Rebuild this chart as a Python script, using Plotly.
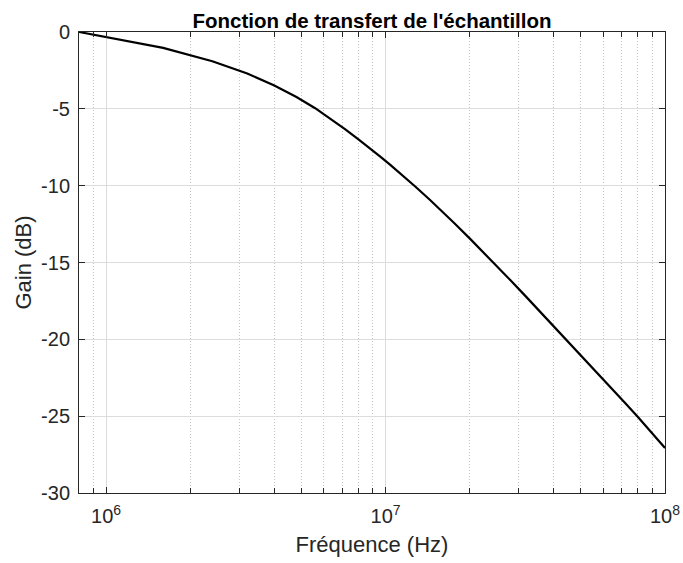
import numpy as np
import plotly.graph_objects as go

# Measured transfer function of the sample
freq_mhz = [0.8, 1.6, 2.4, 3.2, 4.0, 4.8, 5.6, 6.4, 7.2, 8.0, 8.8, 9.6, 10.4,
            11.2, 12.0, 12.8, 14.4, 16.0, 17.6, 20.0, 22.4, 24.0, 28.0, 32.0,
            36.0, 40.0, 48.0, 56.0, 64.0, 72.0, 80.0, 88.0, 100.0]
gain_db = [0.00, -1.03, -1.90, -2.70, -3.48, -4.23, -4.96, -5.68, -6.35, -6.99,
           -7.57, -8.13, -8.65, -9.14, -9.62, -10.07, -10.92, -11.70, -12.43,
           -13.43, -14.33, -14.89, -16.16, -17.27, -18.26, -19.15, -20.69,
           -22.00, -23.14, -24.15, -25.06, -25.89, -27.07]

freq_hz = [f * 1e6 for f in freq_mhz]

x_major = [1e6, 1e7, 1e8]
x_major_text = ["10<sup>6</sup>", "10<sup>7</sup>", "10<sup>8</sup>"]
x_minor = [m * 10 ** e for e in (5, 6, 7) for m in range(2, 10)]
x_minor = [v for v in x_minor if 8e5 <= v <= 1e8]

y_ticks = [0, -5, -10, -15, -20, -25, -30]
y_text = ["0", "-5", "-10", "-15", "-20", "-25", "-30"]

ink = "#262626"
font = "Liberation Sans, Arial, Helvetica, sans-serif"

fig = go.Figure()
fig.add_trace(go.Scatter(
    x=freq_hz, y=gain_db, mode="lines",
    line=dict(color="black", width=2.2),
    showlegend=False, hoverinfo="skip",
))

fig.update_layout(
    width=683, height=563,
    margin=dict(l=79, r=18, t=32, b=70),
    paper_bgcolor="white", plot_bgcolor="white",
    font=dict(family=font, color=ink, size=20),
    title=dict(
        text="<b>Fonction de transfert de l'échantillon</b>",
        x=(79 + 665) / 2 / 683, xanchor="center",
        y=1 - 28 / 563, yanchor="bottom",
        font=dict(size=20.5, color="black", family=font),
    ),
)

fig.update_xaxes(
    type="log", range=[np.log10(8e5), 8], automargin=False,
    tickmode="array", tickvals=x_major, ticktext=x_major_text,
    ticks="inside", ticklen=6, tickcolor=ink, tickwidth=1,
    showline=True, linecolor=ink, linewidth=1, mirror="allticks",
    showgrid=True, gridcolor="#dcdcdc", gridwidth=1,
    minor=dict(tickmode="array", tickvals=x_minor, ticks="inside", ticklen=5,
               tickcolor=ink, showgrid=True, gridcolor="#c4c4c4",
               griddash="1px,2px", gridwidth=1),
    tickfont=dict(size=20, color=ink), ticklabelstandoff=5,
    title=dict(text="Fréquence (Hz)", font=dict(size=22, color=ink), standoff=10),
    zeroline=False,
)

fig.update_yaxes(
    range=[-30, 0], automargin=False,
    tickmode="array", tickvals=y_ticks, ticktext=y_text,
    ticks="inside", ticklen=6, tickcolor=ink, tickwidth=1,
    showline=True, linecolor=ink, linewidth=1, mirror="allticks",
    showgrid=True, gridcolor="#dcdcdc", gridwidth=1,
    tickfont=dict(size=20, color=ink), ticklabelstandoff=4,
    title=dict(text="Gain (dB)", font=dict(size=22, color=ink), standoff=3),
    zeroline=False,
)

fig.write_html("out.html")
